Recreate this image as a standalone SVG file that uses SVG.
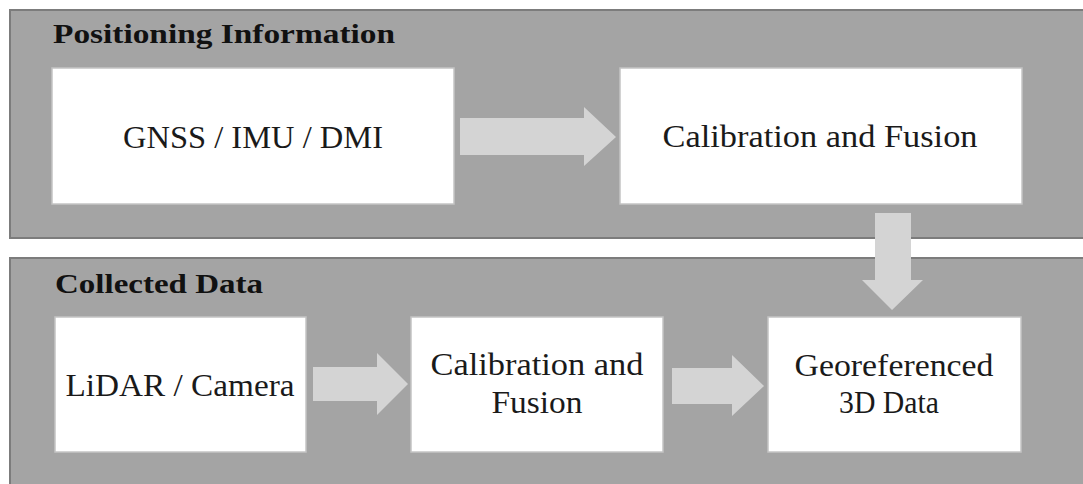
<svg xmlns="http://www.w3.org/2000/svg" width="1083" height="484" viewBox="0 0 1083 484">
<style>
.panel{fill:#a4a4a4;stroke:#7c7c7c;stroke-width:2}
.box{fill:#ffffff;stroke:#c4c4c4;stroke-width:1.5}
.arrow{fill:#d4d4d4}
.title{font-family:"Liberation Serif","DejaVu Serif",serif;font-weight:bold;font-size:28px;fill:#111}
.lbl{font-family:"Liberation Serif","DejaVu Serif",serif;font-size:32px;fill:#1a1a1a;text-anchor:middle}
</style>
<rect width="1083" height="484" fill="#ffffff"/>
<g id="panel-positioning">
<rect class="panel" x="10" y="10" width="1080" height="228"/>
<text class="title" x="53" y="43" textLength="342" lengthAdjust="spacingAndGlyphs">Positioning Information</text>
</g>
<g id="panel-collected">
<rect class="panel" x="10" y="258" width="1080" height="235"/>
<text class="title" x="55" y="293" textLength="208" lengthAdjust="spacingAndGlyphs">Collected Data</text>
</g>
<g id="node-gnss">
<rect class="box" x="52" y="68" width="402" height="136"/>
<text class="lbl" x="253" y="148" textLength="260" lengthAdjust="spacingAndGlyphs">GNSS / IMU / DMI</text>
</g>
<g id="node-calib-top">
<rect class="box" x="620" y="68" width="402" height="136"/>
<text class="lbl" x="820" y="147" textLength="315" lengthAdjust="spacingAndGlyphs">Calibration and Fusion</text>
</g>
<g id="node-lidar">
<rect class="box" x="55" y="317" width="251" height="135"/>
<text class="lbl" x="180" y="396" textLength="229" lengthAdjust="spacingAndGlyphs">LiDAR / Camera</text>
</g>
<g id="node-calib-bottom">
<rect class="box" x="411" y="317" width="252" height="135"/>
<text class="lbl" x="537" y="375" textLength="213" lengthAdjust="spacingAndGlyphs">Calibration and</text>
<text class="lbl" x="537" y="413" textLength="91" lengthAdjust="spacingAndGlyphs">Fusion</text>
</g>
<g id="node-georef">
<rect class="box" x="768" y="317" width="253" height="135"/>
<text class="lbl" x="894" y="376" textLength="199" lengthAdjust="spacingAndGlyphs">Georeferenced</text>
<text class="lbl" x="889" y="413" textLength="100" lengthAdjust="spacingAndGlyphs">3D Data</text>
</g>
<g id="connectors">
<polygon class="arrow" points="460,118 584,118 584,107 616,137 584,166 584,155 460,155"/>
<polygon class="arrow" points="875,213 911,213 911,280 923,280 892,310 862,280 875,280"/>
<polygon class="arrow" points="313,367 377,367 377,353 408,384 377,415 377,401 313,401"/>
<polygon class="arrow" points="672,368 732,368 732,355 764,386 732,416 732,404 672,404"/>
</g>
</svg>
